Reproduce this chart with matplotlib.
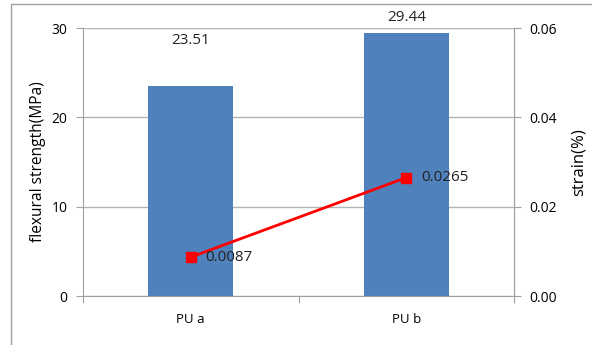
import matplotlib.pyplot as plt
from matplotlib.patches import Rectangle

categories = ["PU a", "PU b"]
strength = [23.51, 29.44]
strain = [0.0087, 0.0265]

plt.rcParams['font.family'] = ['Open Sans', 'DejaVu Sans']

fig = plt.figure(figsize=(5.92, 3.45), dpi=100)
# chart frame
fig.patches.append(Rectangle((11 / 592, -0.1), 1.2, 1 - 4 / 345 + 0.1,
                             transform=fig.transFigure, fill=False,
                             edgecolor='#a0a0a0', linewidth=1.0))

ax = fig.add_axes([83 / 592, 1 - 296 / 345, (514 - 83) / 592, (296 - 28) / 345])
x = list(range(len(categories)))
ax.bar(x, strength, width=0.395, color='#4F81BD', zorder=2)
ax.set_xlim(-0.5, 1.5)
ax.set_ylim(0, 30)
ax.set_yticks([0, 10, 20, 30])
ax.yaxis.grid(True, color='#b4b4b4', linewidth=1.0, zorder=0)
ax.set_axisbelow(True)
ax.spines['top'].set_visible(False)
for s in ['left', 'bottom', 'right']:
    ax.spines[s].set_color('#a0a0a0')
ax.set_xticks([-0.5, 0.5, 1.5])
ax.set_xticklabels([])
ax.set_xticks(x, minor=True)
ax.set_xticklabels(categories, minor=True, fontsize=9.5)
ax.tick_params(axis='x', which='major', length=5, color='#a0a0a0', direction='out')
ax.tick_params(axis='x', which='minor', length=0, pad=12)
ax.tick_params(axis='y', length=5, color='#a0a0a0', labelsize=10, pad=6)
ax.set_ylabel("flexural strength(MPa)", fontsize=11.2, labelpad=4)

# value labels above the bars (label offsets in points)
label_offsets = [33, 11]
for xi, v, off in zip(x, strength, label_offsets):
    ax.annotate(f"{v:.2f}", (xi, v), xytext=(0, off), textcoords='offset points',
                ha='center', va='center', fontsize=11, color='#222222')

ax2 = ax.twinx()
ax2.set_ylim(0, 0.06)
ax2.set_yticks([0, 0.02, 0.04, 0.06])
ax2.set_yticklabels([f"{t:.2f}" for t in [0, 0.02, 0.04, 0.06]])
ax2.plot(x, strain, color='#FF0000', linewidth=2, marker='s', markersize=7, zorder=3)
for s in ['top', 'left', 'bottom']:
    ax2.spines[s].set_visible(False)
ax2.spines['right'].set_color('#a0a0a0')
ax2.tick_params(axis='y', length=5, color='#a0a0a0', labelsize=10, pad=6)
ax2.set_ylabel("strain(%)", fontsize=12, labelpad=10)
for xi, v in zip(x, strain):
    ax2.annotate(f"{v:.4f}", (xi, v), xytext=(10.5, 0),
                 textcoords='offset points', ha='left', va='center',
                 fontsize=11, color='#222222')

fig.savefig("out.png", dpi=100)
